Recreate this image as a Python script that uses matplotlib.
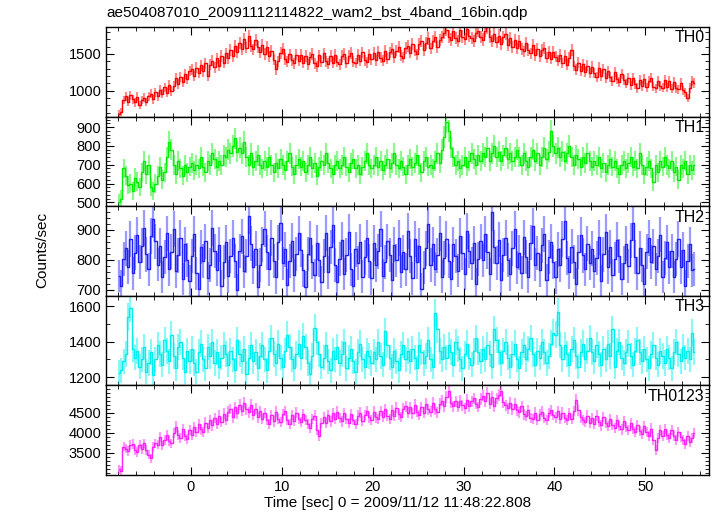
import numpy as np
import matplotlib
matplotlib.use('Agg')
import matplotlib.pyplot as plt
from matplotlib.ticker import MultipleLocator

plt.rcParams['font.family'] = ['Liberation Sans', 'DejaVu Sans']

title = 'ae504087010_20091112114822_wam2_bst_4band_16bin.qdp'
bin_width = 0.25   # sec
t_start = -8.0     # sec, start of first bin

# count rates (counts/sec), 0.25 s bins
th0 = [680, 705, 870, 925, 850, 935, 880, 840, 915, 800, 870, 905, 845, 925, 960, 880,
       975, 920, 1010, 960, 1045, 970, 1080, 995, 1060, 1170, 1090, 1190, 1115, 1230, 1160, 1265,
       1290, 1195, 1310, 1235, 1345, 1260, 1370, 1200, 1350, 1405, 1315, 1440, 1340, 1470, 1380, 1505,
       1440, 1555, 1470, 1610, 1525, 1650, 1560, 1700, 1585, 1740, 1610, 1560, 1690, 1590, 1520, 1625,
       1500, 1590, 1465, 1545, 1420, 1290, 1400, 1510, 1570, 1430, 1390, 1495, 1415, 1370, 1490, 1405,
       1490, 1380, 1470, 1360, 1455, 1500, 1370, 1330, 1480, 1395, 1505, 1400, 1365, 1470, 1380, 1485,
       1395, 1360, 1470, 1500, 1380, 1475, 1510, 1390, 1375, 1490, 1405, 1520, 1415, 1385, 1495, 1425,
       1510, 1410, 1530, 1445, 1405, 1540, 1435, 1520, 1570, 1455, 1545, 1590, 1475, 1445, 1580, 1610,
       1515, 1630, 1545, 1495, 1640, 1670, 1555, 1650, 1710, 1575, 1680, 1730, 1595, 1690, 1730, 1780,
       1830, 1735, 1695, 1810, 1715, 1675, 1820, 1735, 1705, 1840, 1745, 1715, 1675, 1790, 1815, 1725,
       1695, 1810, 1860, 1735, 1675, 1770, 1655, 1750, 1635, 1730, 1770, 1625, 1715, 1595, 1690, 1575,
       1670, 1565, 1535, 1645, 1550, 1505, 1625, 1485, 1570, 1465, 1555, 1580, 1445, 1530, 1435, 1525,
       1460, 1405, 1490, 1375, 1470, 1355, 1450, 1555, 1335, 1285, 1380, 1265, 1360, 1255, 1340, 1235,
       1325, 1240, 1190, 1310, 1205, 1295, 1165, 1270, 1185, 1135, 1255, 1160, 1115, 1225, 1140, 1095,
       1175, 1070, 1165, 1085, 1035, 1150, 1060, 1155, 1045, 1125, 1170, 1055, 1030, 1135, 1065, 1040,
       1145, 1045, 1130, 1025, 1115, 1035, 1015, 1110, 1005, 975, 900, 1035, 1125, 1100]

th1 = [500, 520, 680, 640, 590, 600, 560, 630, 610, 580, 660, 720, 650, 700, 580, 560,
       600, 640, 690, 620, 660, 740, 820, 780, 700, 650, 720, 680, 640, 700, 660, 690,
       710, 670, 700, 680, 740, 690, 660, 720, 700, 760, 730, 690, 720, 700, 750, 740,
       780, 760, 800, 840, 770, 790, 760, 820, 740, 700, 760, 690, 720, 750, 700, 680,
       720, 690, 740, 700, 660, 710, 680, 730, 700, 670, 720, 760, 690, 650, 700, 730,
       690, 720, 660, 700, 740, 680, 710, 640, 690, 720, 700, 760, 710, 680, 650, 700,
       720, 680, 700, 740, 690, 660, 710, 730, 680, 700, 650, 690, 720, 760, 700, 680,
       700, 740, 690, 720, 670, 700, 730, 680, 710, 760, 700, 680, 720, 690, 650, 700,
       730, 690, 710, 750, 700, 660, 720, 740, 690, 700, 680, 720, 760, 710, 780, 850,
       930, 880, 790, 740, 700, 720, 680, 700, 740, 690, 720, 760, 730, 700, 750, 720,
       760, 740, 790, 720, 760, 800, 740, 770, 720, 750, 790, 730, 760, 720, 740, 780,
       740, 700, 760, 720, 690, 740, 780, 720, 760, 700, 740, 790, 730, 770, 880, 800,
       760, 790, 740, 770, 720, 760, 800, 740, 700, 750, 730, 690, 740, 710, 760, 720,
       690, 720, 700, 740, 680, 710, 660, 700, 730, 690, 720, 680, 650, 700, 720, 680,
       710, 740, 690, 720, 680, 760, 700, 650, 690, 720, 680, 610, 700, 660, 720, 690,
       740, 700, 680, 720, 660, 690, 620, 700, 680, 720, 650, 700, 670, 700]

th2 = [745, 712, 801, 838, 776, 869, 754, 823, 881, 792, 846, 905, 817, 768, 879, 934,
       861, 783, 846, 742, 809, 887, 768, 826, 903, 761, 814, 872, 735, 851, 798, 729,
       812, 886, 754, 703, 842, 795, 861, 738, 781, 904, 828, 766, 849, 712, 793, 858,
       744, 812, 873, 796, 698, 829, 877, 761, 813, 946, 852, 774, 836, 709, 782, 851,
       903, 824, 768, 872, 795, 741, 858, 921, 787, 834, 716, 796, 863, 748, 819, 887,
       832, 764, 708, 819, 871, 793, 747, 856, 798, 725, 812, 889, 757, 842, 916, 781,
       724, 801, 866, 752, 815, 893, 768, 711, 834, 788, 859, 743, 807, 872, 796, 738,
       855, 781, 827, 903, 746, 792, 861, 815, 733, 849, 797, 872, 759, 824, 768, 896,
       812, 738, 869, 791, 846, 702, 773, 838, 917, 782, 851, 769, 814, 887, 743, 806,
       868, 794, 737, 851, 811, 763, 878, 822, 752, 895, 829, 787, 854, 718, 802, 861,
       797, 884, 826, 751, 958, 842, 789, 866, 733, 815, 872, 798, 751, 838, 901, 774,
       823, 756, 874, 809, 742, 856, 911, 783, 821, 764, 847, 886, 732, 808, 859, 793,
       741, 834, 782, 869, 928, 806, 757, 843, 792, 718, 825, 881, 814, 767, 852, 789,
       836, 761, 805, 874, 728, 817, 893, 776, 842, 748, 801, 866, 812, 736, 789, 852,
       779, 864, 921, 808, 754, 837, 781, 719, 826, 872, 793, 845, 768, 811, 883, 742,
       806, 857, 774, 829, 742, 801, 868, 776, 833, 712, 795, 851, 764, 769]

th3 = [1225, 1240, 1290, 1330, 1540, 1590, 1360, 1310, 1350, 1260, 1300, 1370, 1230, 1280, 1340, 1210,
       1300, 1380, 1330, 1270, 1410, 1350, 1290, 1440, 1320, 1250, 1370, 1400, 1310, 1230, 1350, 1290,
       1360, 1280, 1230, 1340, 1390, 1300, 1250, 1370, 1320, 1400, 1280, 1340, 1260, 1310, 1380, 1330,
       1270, 1350, 1300, 1240, 1410, 1330, 1290, 1360, 1220, 1310, 1380, 1290, 1340, 1250, 1320, 1380,
       1300, 1240, 1350, 1420, 1330, 1280, 1390, 1310, 1260, 1350, 1440, 1370, 1300, 1250, 1330, 1390,
       1310, 1430, 1370, 1280, 1220, 1320, 1480, 1400, 1330, 1260, 1310, 1380, 1290, 1240, 1350, 1300,
       1370, 1280, 1330, 1400, 1250, 1310, 1360, 1290, 1230, 1340, 1390, 1300, 1260, 1350, 1320, 1280,
       1340, 1300, 1400, 1320, 1270, 1460, 1380, 1310, 1260, 1350, 1290, 1240, 1330, 1380, 1300, 1350,
       1290, 1360, 1310, 1250, 1380, 1340, 1280, 1320, 1410, 1300, 1260, 1560, 1470, 1350, 1300, 1370,
       1310, 1380, 1340, 1270, 1400, 1360, 1300, 1250, 1330, 1390, 1310, 1270, 1350, 1420, 1340, 1290,
       1360, 1300, 1380, 1330, 1260, 1470, 1410, 1340, 1280, 1350, 1400, 1310, 1260, 1330, 1390, 1300,
       1250, 1340, 1380, 1300, 1360, 1420, 1330, 1270, 1350, 1310, 1400, 1340, 1280, 1320, 1390, 1450,
       1440, 1570, 1380, 1300, 1380, 1330, 1270, 1360, 1410, 1320, 1260, 1340, 1390, 1300, 1350, 1420,
       1340, 1290, 1380, 1330, 1270, 1360, 1300, 1390, 1320, 1470, 1260, 1350, 1400, 1310, 1280, 1340,
       1390, 1320, 1270, 1350, 1410, 1340, 1290, 1360, 1300, 1250, 1330, 1380, 1310, 1270, 1350, 1320,
       1280, 1360, 1310, 1250, 1340, 1400, 1330, 1290, 1370, 1310, 1350, 1300, 1450, 1340]

th0123 = [3080, 3050, 3650, 3600, 3540, 3690, 3720, 3560, 3510, 3700, 3590, 3730, 3560, 3450, 3360, 3650,
          3730, 3700, 3890, 3680, 3820, 3950, 3790, 3730, 3990, 4150, 3940, 3870, 4090, 3920, 3850, 4060,
          3940, 4130, 4010, 4220, 4080, 4020, 4250, 4110, 4310, 4180, 4360, 4210, 4420, 4260, 4470, 4310,
          4520, 4590, 4380, 4640, 4480, 4690, 4540, 4750, 4580, 4510, 4690, 4440, 4600, 4380, 4540, 4340,
          4490, 4310, 4210, 4440, 4280, 4520, 4340, 4260, 4460, 4540, 4310, 4210, 4440, 4290, 4500, 4340,
          4260, 4460, 4310, 4210, 4110, 4340, 4420, 4060, 3910, 4240, 4390, 4240, 4440, 4280, 4490, 4340,
          4520, 4360, 4280, 4490, 4340, 4240, 4460, 4310, 4210, 4420, 4500, 4290, 4440, 4540, 4380, 4310,
          4520, 4380, 4340, 4540, 4400, 4590, 4420, 4340, 4560, 4410, 4620, 4460, 4390, 4600, 4660, 4500,
          4640, 4480, 4690, 4520, 4440, 4640, 4500, 4720, 4580, 4520, 4740, 4580, 4510, 4720, 4790, 4660,
          4890, 5040, 4740, 4660, 4780, 4640, 4800, 4680, 4610, 4820, 4660, 4780, 4860, 4720, 4640, 4840,
          4920, 4780, 4990, 4720, 4890, 4660, 4860, 4940, 5040, 4760, 4680, 4610, 4740, 4580, 4720, 4560,
          4510, 4660, 4460, 4410, 4560, 4360, 4340, 4500, 4310, 4460, 4520, 4360, 4310, 4490, 4560, 4440,
          4380, 4540, 4340, 4500, 4360, 4310, 4490, 4340, 4540, 4820, 4560, 4380, 4310, 4260, 4420, 4240,
          4360, 4210, 4420, 4260, 4180, 4390, 4240, 4160, 4340, 4190, 4110, 4320, 4160, 4080, 4290, 4140,
          4060, 4240, 4090, 4010, 4190, 4040, 3960, 4160, 4010, 3910, 4100, 3810, 3560, 3860, 4060, 3910,
          4090, 3940, 3860, 4060, 3910, 3820, 4020, 3880, 3810, 3710, 3920, 3760, 3860, 3990]

names = ['TH0', 'TH1', 'TH2', 'TH3', 'TH0123']
series = [th0, th1, th2, th3, th0123]
colors = ['#ff0000', '#00ee00', '#2222ff', '#00eeee', '#ff22ff']
ylims = [(642, 1861), (478, 955), (679, 977), (1153, 1659), (2942, 5177)]
yticks = [[1000, 1500], [500, 600, 700, 800, 900], [700, 800, 900],
          [1200, 1400, 1600], [3500, 4000, 4500]]
yminor = [100, 20, 20, 100, 100]

fig = plt.figure(figsize=(7.17, 5.16), dpi=100)
fig.subplots_adjust(left=0.148, right=0.989, top=0.947, bottom=0.0795, hspace=0)
axes = fig.subplots(5, 1, sharex=True)

for ax, name, y, c, yl, yt, ym in zip(axes, names, series, colors, ylims, yticks, yminor):
    y = np.array(y, dtype=float)
    t = t_start + bin_width * (np.arange(len(y)) + 0.5)
    err = np.sqrt(y / bin_width)   # poisson error on rate
    ax.vlines(t, y - err, y + err, color=c, alpha=0.45, lw=1.6)
    ax.plot(t, y, drawstyle='steps-mid', color=c, lw=1.0)
    ax.set_ylim(yl)
    ax.set_yticks(yt)
    ax.yaxis.set_minor_locator(MultipleLocator(ym))
    ax.text(0.992, 0.965, name, transform=ax.transAxes, ha='right', va='top', fontsize=11.5)
    ax.tick_params(which='both', direction='in', top=True, right=True, labelsize=10.5)
    ax.tick_params(which='major', length=6)
    ax.tick_params(which='minor', length=3)
    for s in ax.spines.values():
        s.set_linewidth(1.0)

axes[-1].set_xlim(-9.3, 57.0)
axes[-1].xaxis.set_major_locator(MultipleLocator(10))
axes[-1].xaxis.set_minor_locator(MultipleLocator(2))

fig.text(0.149, 0.975, title, ha='left', va='center', fontsize=11)
fig.text(0.059, 0.515, 'Counts/sec', rotation=90, ha='center', va='center', fontsize=11)
fig.text(0.555, 0.025, 'Time [sec] 0 = 2009/11/12 11:48:22.808', ha='center', va='center', fontsize=11)

fig.savefig('out.png', dpi=100)
